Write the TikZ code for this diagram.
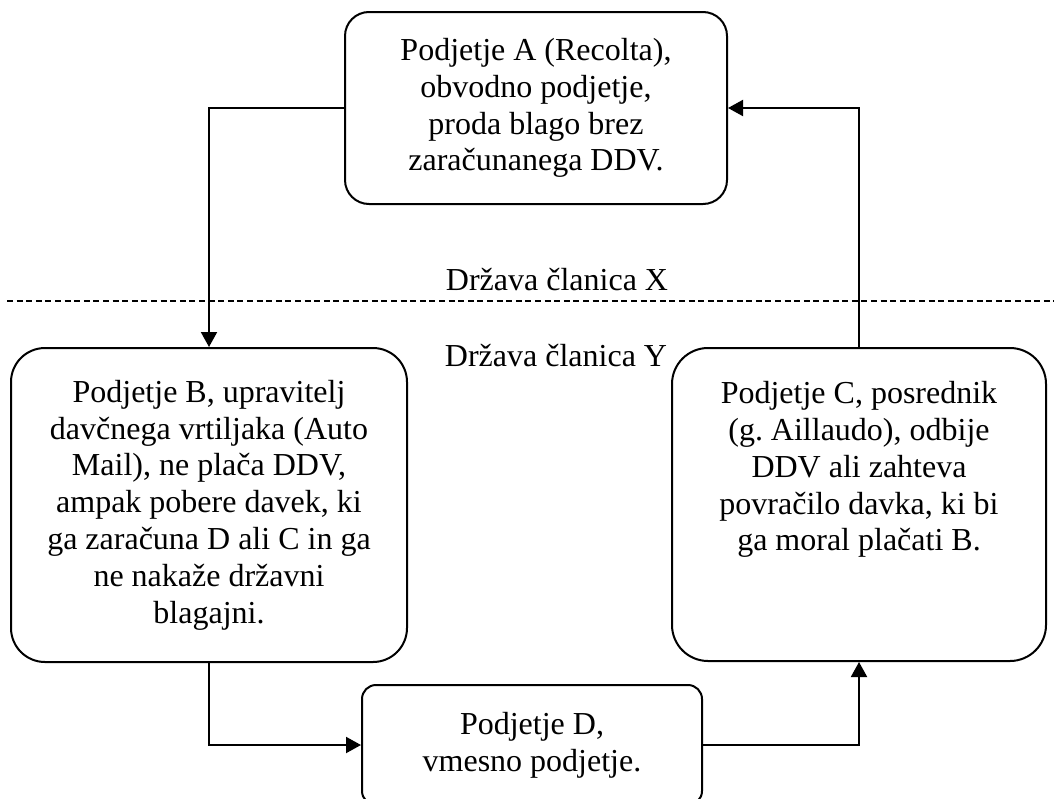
\documentclass[tikz,border=0pt]{standalone}
\usepackage{fontspec}
\setmainfont{Liberation Serif}
\usetikzlibrary{arrows.meta,positioning}
\frenchspacing

\tikzset{
  box/.style={draw, line width=1pt, align=center, inner sep=0pt},
  flow/.style={->, line width=1pt},
  state/.style={inner sep=0pt, align=center}
}

\begin{document}
\begin{tikzpicture}[x=0.5pt, y=-0.5pt, >={Triangle[length=7.5pt,width=8pt]},
  font=\fontsize{16}{18.4}\selectfont]

\useasboundingbox (0,0) rectangle (1054,798);

% boxes
\node[box, minimum width=191pt, minimum height=96pt, rounded corners=12pt] (boxA) at (536,108)
  {Podjetje A (Recolta),\\ obvodno podjetje,\\ proda blago brez\\ zaračunanega DDV.};
\node[box, minimum width=198pt, minimum height=157pt, rounded corners=17pt] (boxB) at (209,505)
  {Podjetje B, upravitelj\\ davčnega vrtiljaka (Auto\\ Mail), ne plača DDV,\\ ampak pobere davek, ki\\
   ga zaračuna D ali C in ga\\ ne nakaže državni\\ blagajni.};
\node[box, minimum width=187pt, minimum height=156.5pt, rounded corners=18pt] (boxC) at (859,504.5) {};
\node[state, anchor=north] (textC) at (859,381)
  {Podjetje C, posrednik\\ (g. Aillaudo), odbije\\ DDV ali zahteva\\ povračilo davka, ki bi\\ ga moral plačati B.};
\node[box, minimum width=170pt, minimum height=60pt, rounded corners=7pt] (boxD) at (532,745)
  {Podjetje D,\\ vmesno podjetje.};

% border between the two states
\coordinate (borderL) at (7,301);
\coordinate (borderR) at (1054,301);
\draw[line width=0.75pt, dash pattern=on 3pt off 1.8pt] (borderL) -- (borderR);
\node[state] (stateX) at (557,280) {Država članica X};
\node[state] (stateY) at (556,356) {Država članica Y};

% flow of goods
\draw[flow] (boxA.west) -| (boxB.north);
\draw[flow] (boxB.south) |- (boxD.west);
\draw[flow] (boxD.east) -| (boxC.south);
\draw[flow] (boxC.north) |- (boxA.east);

\end{tikzpicture}
\end{document}
